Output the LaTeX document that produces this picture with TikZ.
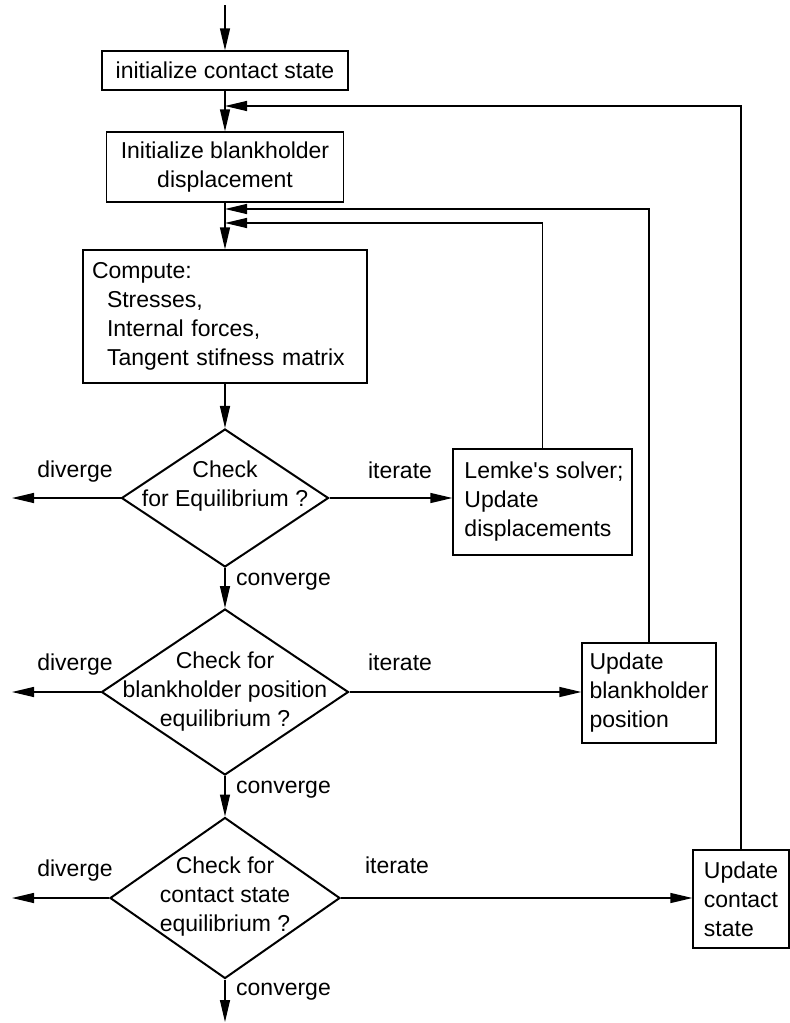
\documentclass[tikz,border=0pt]{standalone}
\usepackage{fontspec}
\setmainfont{Liberation Sans}
\usetikzlibrary{shapes.geometric, arrows.meta, positioning}
\newcommand{\dtext}[2][-6pt]{\makebox[0pt]{\raisebox{#1}[0pt][0pt]{\begin{tabular}{@{}c@{}}#2\end{tabular}}}}
\tikzset{
  process/.style={rectangle, draw=black, line width=1.3pt, inner sep=0pt,
    align=left, font=\fontsize{23}{29}\selectfont},
  decision/.style={diamond, draw=black, line width=2pt, inner sep=0pt,
    font=\fontsize{23}{29}\selectfont},
  lbl/.style={inner sep=0pt, font=\fontsize{23}{29}\selectfont},
  arr/.style={-{Triangle[length=22pt, width=10pt]}, line width=1.3pt, draw=black},
}
\begin{document}
\begin{tikzpicture}[x=1pt, y=-1pt]
  \useasboundingbox (0,0) rectangle (790,1023);

  % Main column
  \node[process, minimum width=246pt, minimum height=39pt, align=center] (init) at (225,70.5) {initialize contact state};
  \node[process, minimum width=237pt, minimum height=70pt, align=center] (blank) at (225,167) {Initialize blankholder\\displacement};
  \node[process, minimum width=284pt, minimum height=133pt, text width=266pt, inner xsep=9pt] (comp) at (225,316.5)
    {Compute:\\\hspace*{15pt}Stresses,\\\hspace*{15pt}Internal forces,\\\hspace*{15pt}Tangent stifness matrix};

  % Checks
  \node[decision, minimum width=207pt, minimum height=138pt] (eqchk) at (225,498) {\dtext[6pt]{Check\\for Equilibrium ?}};
  \node[decision, minimum width=247pt, minimum height=166pt] (bhchk) at (225,692) {\dtext{Check for\\blankholder position\\equilibrium ?}};
  \node[decision, minimum width=230pt, minimum height=161pt] (cschk) at (225,898) {\dtext[-5pt]{Check for\\contact state\\equilibrium ?}};

  % Updates
  \node[process, minimum width=179pt, minimum height=106pt] (lemke) at (542.5,502) {\hspace*{3pt}Lemke\textquotesingle s solver;\\\hspace*{3pt}Update\\\hspace*{3pt}displacements};
  \node[process, minimum width=134pt, minimum height=100pt] (bhupd) at (649,693) {Update\\blankholder\\position};
  \node[process, minimum width=96pt, minimum height=98pt] (csupd) at (741,899) {Update\\contact\\state};

  % Free ends
  \coordinate (start) at (225,5);
  \coordinate (stop) at (225,1022);
  \coordinate (eqout) at (12,498);
  \coordinate (bhout) at (12,692);
  \coordinate (csout) at (12,898);
  \coordinate (csback) at (225,106);
  \coordinate (bhback) at (225,209);
  \coordinate (eqback) at (225,223);

  % Arrows
  \draw[arr] (start) -- (init);
  \draw[arr] (init) -- (blank);
  \draw[arr] (blank) -- (comp);
  \draw[arr] (comp) -- (eqchk);
  \draw[arr] (eqchk) -- (bhchk);
  \draw[arr] (bhchk) -- (cschk);
  \draw[arr] (cschk) -- (stop);
  \draw[arr] (eqchk.west) -- (eqout);
  \draw[arr] (bhchk.west) -- (bhout);
  \draw[arr] (cschk.west) -- (csout);
  \draw[arr] (eqchk.east) -- (eqchk.east -| lemke.west);
  \draw[arr] (bhchk.east) -- (bhchk.east -| bhupd.west);
  \draw[arr] (cschk.east) -- (cschk.east -| csupd.west);
  \draw[arr] (lemke.north) |- (eqback);
  \draw[arr] (bhupd.north) |- (bhback);
  \draw[arr] (csupd.north) |- (csback);

  % Labels
  \node[lbl, anchor=base] (eqdiv) at (75,477) {diverge};
  \node[lbl, anchor=base] (bhdiv) at (75,670) {diverge};
  \node[lbl, anchor=base] (csdiv) at (75,876) {diverge};
  \node[lbl, anchor=base] (eqit) at (400,478) {iterate};
  \node[lbl, anchor=base] (bhit) at (400,670) {iterate};
  \node[lbl, anchor=base] (csit) at (397,873) {iterate};
  \node[lbl, anchor=base west] (eqconv) at (236,585) {converge};
  \node[lbl, anchor=base west] (bhconv) at (236,793) {converge};
  \node[lbl, anchor=base west] (csconv) at (236,995) {converge};
\end{tikzpicture}
\end{document}
